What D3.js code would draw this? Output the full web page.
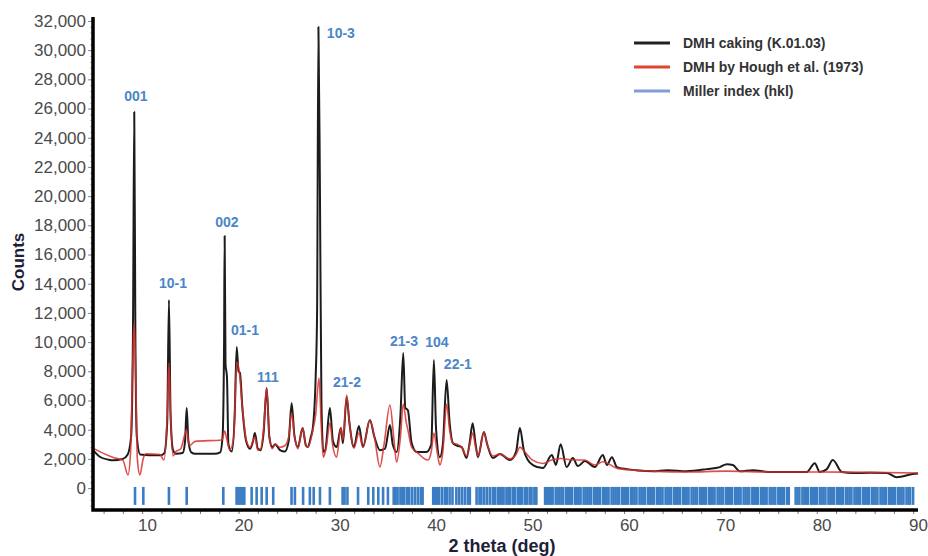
<!DOCTYPE html>
<html>
<head>
<meta charset="utf-8">
<script src="https://cdn.jsdelivr.net/npm/d3@7"></script>
<style>
  body { margin: 0; background: #fff; }
  svg { display: block; font-family: Arial, "Liberation Sans", sans-serif; }
</style>
</head>
<body>
<div id="chart"></div>
<script>
// XRD pattern: observed DMH caking vs calculated (Hough et al. 1973)

// observed pattern, [2 theta, counts]
const observed = [
  [4.4, 2600], [5.1, 2150], [6.0, 1950], [6.5, 1900], [7.5, 2000], [8.0, 2300], [8.35, 3500],
  [8.55, 11000], [8.68, 25760], [8.8, 10000], [8.95, 3500], [9.3, 2300], [10.3, 2250],
  [11.4, 2250], [11.8, 2400], [12.1, 4500], [12.28, 12880], [12.45, 5000], [12.7, 2600],
  [13.0, 2350], [13.7, 2400], [13.95, 3200], [14.12, 5480], [14.3, 3200], [14.6, 2450],
  [15.0, 2350], [17.0, 2350], [17.6, 2450], [17.85, 3600], [18.0, 10000], [18.06, 17270],
  [18.15, 8500], [18.3, 7600], [18.45, 3000], [18.8, 2500], [19.1, 5000], [19.31, 9660],
  [19.5, 8000], [19.65, 7880], [19.9, 5500], [20.3, 3200], [20.7, 2700], [21.0, 3200],
  [21.2, 3770], [21.5, 2700], [21.8, 2600], [22.1, 3800], [22.42, 6850], [22.7, 3500],
  [23.0, 2800], [23.3, 3000], [23.8, 2600], [24.3, 2500], [24.7, 3200], [25.01, 5820],
  [25.3, 3600], [25.66, 2810], [26.15, 4110], [26.5, 2900], [26.7, 2810], [27.0, 3500],
  [27.22, 4180], [27.5, 7540], [27.65, 12000], [27.79, 31590], [27.95, 20000], [28.1, 6000],
  [28.3, 2470], [28.5, 2600], [28.98, 5480], [29.3, 3200], [29.68, 2810], [30.12, 4110],
  [30.33, 3080], [30.72, 6240], [31.0, 4500], [31.47, 2810], [31.99, 4250], [32.41, 2810],
  [33.13, 4660], [33.6, 3500], [34.17, 2600], [34.7, 2700], [35.21, 4320], [35.5, 3000],
  [35.9, 2470], [36.3, 5000], [36.59, 9250], [36.8, 5500], [37.07, 5340], [37.46, 3080],
  [38.0, 2470], [39.0, 2470], [39.5, 3000], [39.77, 8770], [40.0, 4000], [40.39, 2120],
  [40.7, 3000], [41.09, 7400], [41.4, 4500], [41.74, 3080], [42.2, 2900], [42.65, 2810],
  [43.16, 2060], [43.5, 3200], [43.79, 4450], [44.1, 3000], [44.34, 2120], [44.96, 3840],
  [45.3, 3000], [45.89, 2060], [46.62, 2330], [47.66, 1920], [48.3, 2500], [48.69, 4110],
  [49.1, 2600], [49.52, 1920], [50.04, 1580], [51.08, 1370], [52.01, 2260], [52.43, 1580],
  [52.92, 3010], [53.54, 1440], [54.19, 2060], [54.71, 1510], [55.44, 1850], [56.47, 1440],
  [57.3, 2260], [57.72, 1580], [58.24, 2120], [58.76, 1440], [59.79, 1300], [61.0, 1200],
  [62.49, 1160], [64.0, 1230], [66.02, 1160], [68.09, 1300], [69.44, 1440], [70.17, 1640],
  [70.79, 1580], [71.52, 1160], [72.86, 1230], [74.5, 1100], [76.39, 1100], [78.46, 1100],
  [79.29, 1710], [79.81, 1100], [80.54, 1300], [81.16, 1920], [82.1, 1100], [83.24, 1030],
  [85.0, 1050], [86.76, 1030], [87.8, 750], [89.46, 960], [90.0, 1000]
];

// calculated pattern, [2 theta, counts]
const calculated = [
  [4.4, 2740], [5.1, 2500], [6.5, 2100], [7.5, 1900], [8.03, 900], [8.3, 2500], [8.5, 8000],
  [8.68, 11370], [8.85, 7000], [9.0, 2000], [9.27, 900], [9.6, 2000], [9.9, 2350],
  [11.35, 2300], [11.76, 1920], [12.1, 5000], [12.28, 8560], [12.45, 5000], [12.7, 2200],
  [13.0, 2500], [13.5, 2700], [14.12, 3970], [14.4, 2900], [15.0, 3200], [17.78, 3300],
  [18.06, 3900], [18.3, 3300], [18.6, 2600], [19.0, 3500], [19.31, 8630], [19.6, 7880],
  [19.9, 5500], [20.3, 3300], [20.7, 2800], [21.2, 3500], [21.5, 2600], [21.8, 2700],
  [22.1, 4000], [22.42, 6850], [22.7, 3500], [23.0, 2700], [23.3, 3000], [23.8, 2800],
  [24.3, 2900], [24.7, 3500], [25.01, 5140], [25.3, 3600], [25.66, 2700], [26.15, 4110],
  [26.5, 2900], [26.7, 2810], [27.22, 4000], [27.5, 5000], [27.85, 7540], [28.1, 4000],
  [28.3, 2120], [28.6, 2800], [28.98, 4450], [29.3, 2800], [29.68, 2120], [30.12, 4110],
  [30.33, 3300], [30.72, 6370], [31.0, 4500], [31.47, 2740], [31.99, 3770], [32.41, 2810],
  [33.13, 4660], [33.6, 3500], [34.17, 1440], [34.6, 3000], [35.21, 5690], [35.6, 3500],
  [35.9, 1780], [36.3, 3500], [36.59, 5760], [36.9, 4500], [37.07, 4000], [37.46, 2800],
  [38.0, 2470], [39.15, 1920], [39.5, 2500], [39.77, 3770], [40.1, 2500], [40.39, 1580],
  [40.7, 2500], [41.09, 5760], [41.4, 4000], [41.74, 3080], [42.2, 3000], [42.65, 2810],
  [43.16, 2200], [43.5, 3000], [43.79, 3770], [44.1, 2800], [44.34, 2200], [44.96, 3800],
  [45.3, 3000], [45.89, 2200], [46.62, 2330], [47.66, 2000], [48.3, 2300], [48.69, 2810],
  [49.2, 2490], [50.0, 1920], [51.08, 1690], [52.0, 1920], [52.9, 2030], [54.2, 1920],
  [55.4, 1920], [56.5, 1580], [57.3, 1800], [58.8, 1350], [60.5, 1230], [62.5, 1160],
  [66.0, 1100], [70.0, 1160], [75.0, 1100], [80.0, 1100], [85.0, 1080], [90.0, 1030]
];

// reflection positions (2 theta) for the Miller index ticks
const reflections = [
  8.76, 9.62, 12.28, 14.12, 17.92, 19.3, 19.5, 19.7, 19.9, 20.1, 20.86, 21.38, 21.9, 22.42,
  23.1, 25.0, 25.35, 26.2, 26.9, 27.3, 27.95, 28.98, 30.3, 30.5, 30.8, 31.9, 32.96, 33.48,
  34.0, 34.5, 35.0, 35.6, 35.8, 36.0, 36.3, 36.5, 36.7, 37.0, 37.2, 37.5, 37.8, 38.1, 38.4,
  38.6, 39.7, 39.9, 40.1, 40.3, 40.6, 40.9, 41.1, 41.4, 41.7, 42.1, 42.4, 42.7, 43.0, 43.3,
  43.5, 44.2, 44.5, 44.7, 45.0, 45.3, 45.6, 45.9, 46.1, 46.4, 46.6, 46.8, 47.0, 47.3, 47.5,
  47.7, 48.0, 48.2, 48.5, 48.7, 48.9, 49.2, 49.4, 49.7, 49.9, 50.2, 50.4,
  51.3, 51.5, 51.7, 51.9, 52.1, 52.4, 52.6, 52.8, 53.0, 53.2, 53.5, 53.7, 53.9, 54.1, 54.4,
  54.6, 54.8, 55.0, 55.3, 55.5, 55.7, 55.9, 56.1, 56.4, 56.6, 56.8, 57.0, 57.3, 57.5, 57.7,
  57.9, 58.2, 58.4, 58.6, 58.8, 59.0, 59.3, 59.5, 59.7, 59.9, 60.2, 60.4, 60.6, 60.8, 61.1,
  61.3, 61.5, 61.7, 62.0, 62.2, 62.4, 62.6, 62.9, 63.1, 63.3, 63.5, 63.8, 64.0, 64.2, 64.4,
  64.7, 64.9, 65.1, 65.3, 65.6, 65.8, 66.0, 66.2, 66.5, 66.7, 66.9, 67.1, 67.4, 67.6, 67.8,
  68.0, 68.3, 68.5, 68.7, 68.9, 69.2, 69.4, 69.6, 69.8, 70.1, 70.3, 70.5, 70.7, 71.0, 71.2,
  71.4, 71.6, 71.9, 72.1, 72.3, 72.5, 72.8, 73.0, 73.2, 73.4, 73.7, 73.9, 74.1, 74.3, 74.6,
  74.8, 75.0, 75.2, 75.5, 75.7, 75.9, 76.1, 76.4, 76.6,
  77.3, 77.5, 77.7, 78.0, 78.2, 78.4, 78.6, 78.9, 79.1, 79.3, 79.5, 79.8, 80.0, 80.2, 80.4,
  80.7, 80.9, 81.1, 81.3, 81.6, 81.8, 82.0, 82.2, 82.5, 82.7, 82.9, 83.1, 83.4, 83.6, 83.8,
  84.0, 84.3, 84.5, 84.7, 84.9, 85.2, 85.4, 85.6, 85.8, 86.1, 86.3, 86.5, 86.7, 87.0, 87.2,
  87.4, 87.6, 87.9, 88.1, 88.3, 88.5, 88.8, 89.0, 89.2, 89.5
];

// peak annotations: hkl label, 2 theta, counts where the label sits
const peakLabels = [
  ['001', 8.86, 26520], ['10-1', 12.7, 13700], ['002', 18.3, 17880], ['01-1', 20.17, 10480],
  ['111', 22.55, 7260], ['10-3', 30.12, 30830], ['21-2', 30.75, 6920], ['21-3', 36.66, 9730],
  ['104', 40.08, 9660], ['22-1', 42.26, 8150]
];

const yTicks = [0, 2000, 4000, 6000, 8000, 10000, 12000, 14000, 16000, 18000, 20000,
  22000, 24000, 26000, 28000, 30000, 32000];
const xTicks = [10, 20, 30, 40, 50, 60, 70, 80, 90];

const legendItems = [
  { label: 'DMH caking (K.01.03)', color: '#222' },
  { label: 'DMH by Hough et al. (1973)', color: '#e0452f' },
  { label: 'Miller index (hkl)', color: '#7f9fd4' }
];

const width = 928, height = 556;
const svg = d3.select('#chart').append('svg')
  .attr('width', width)
  .attr('height', height);

const x = d3.scaleLinear().domain([4.4, 90]).range([93, 918]);
const y = d3.scaleLinear().domain([-1500, 32270]).range([510, 17]);

// y minor ticks
svg.append('g')
  .attr('transform', 'translate(93,0)')
  .call(d3.axisLeft(y).tickValues(d3.range(-1200, 32200, 400)).tickSize(3).tickFormat(''))
  .call(g => g.select('.domain').remove())
  .call(g => g.selectAll('line').attr('stroke', '#bbb'));

// y major ticks + labels
svg.append('g')
  .attr('transform', 'translate(93,0)')
  .call(d3.axisLeft(y).tickValues(yTicks).tickSize(5).tickPadding(2).tickFormat(d3.format(',')))
  .call(g => g.select('.domain').remove())
  .call(g => g.selectAll('line').attr('stroke', '#888'))
  .call(g => g.selectAll('text')
    .attr('font-size', 17)
    .attr('font-family', 'Arial, "Liberation Sans", sans-serif')
    .attr('fill', '#4a4a4a'));

// x minor ticks
svg.append('g')
  .attr('transform', 'translate(0,510)')
  .call(d3.axisBottom(x).tickValues(d3.range(5.5, 90, 2)).tickSize(4).tickFormat(''))
  .call(g => g.select('.domain').remove())
  .call(g => g.selectAll('line').attr('stroke', '#777'));

// x labels
svg.append('g')
  .attr('transform', 'translate(0,510)')
  .call(d3.axisBottom(x).tickValues(xTicks).tickSize(0).tickPadding(9))
  .call(g => g.select('.domain').remove())
  .call(g => g.selectAll('text')
    .attr('font-size', 17)
    .attr('font-family', 'Arial, "Liberation Sans", sans-serif')
    .attr('fill', '#4a4a4a'));

// Miller index ticks
svg.append('g')
  .selectAll('line')
  .data(reflections)
  .enter()
  .append('line')
  .attr('x1', d => x(d))
  .attr('x2', d => x(d))
  .attr('y1', y(80))
  .attr('y2', y(-1150))
  .attr('stroke', '#3b7dc4')
  .attr('stroke-width', d => d > 51 ? 2.4 : 2.6);

const line = d3.line()
  .x(d => x(d[0]))
  .y(d => y(d[1]))
  .curve(d3.curveMonotoneX);

svg.append('path')
  .datum(observed)
  .attr('d', line)
  .attr('fill', 'none')
  .attr('stroke', '#1c1c1c')
  .attr('stroke-width', 2)
  .attr('stroke-linejoin', 'round');

svg.append('path')
  .datum(calculated)
  .attr('d', line)
  .attr('fill', 'none')
  .attr('stroke', '#d9302c')
  .attr('stroke-opacity', 0.85)
  .attr('stroke-width', 1.6)
  .attr('stroke-linejoin', 'round');

// axis frame
svg.append('path')
  .attr('d', `M${x(4.4)},${y(32270)}V${y(-1500)}H${x(90)}`)
  .attr('fill', 'none')
  .attr('stroke', '#000')
  .attr('stroke-width', 3.5);

// peak labels
svg.append('g')
  .selectAll('text')
  .data(peakLabels)
  .enter()
  .append('text')
  .attr('x', d => x(d[1]))
  .attr('y', d => y(d[2]))
  .attr('text-anchor', 'middle')
  .attr('font-size', 14)
  .attr('font-weight', 'bold')
  .attr('fill', '#4a86c8')
  .text(d => d[0]);

// axis titles
svg.append('text')
  .attr('x', 502)
  .attr('y', 552)
  .attr('text-anchor', 'middle')
  .attr('font-size', 18)
  .attr('font-weight', 'bold')
  .attr('fill', '#1e1e3a')
  .text('2 theta (deg)');

svg.append('text')
  .attr('transform', 'translate(24,262) rotate(-90)')
  .attr('text-anchor', 'middle')
  .attr('font-size', 17)
  .attr('font-weight', 'bold')
  .attr('fill', '#1e1e3a')
  .text('Counts');

// legend
const legend = svg.append('g')
  .attr('transform', 'translate(634,43)');

const rows = legend.selectAll('g')
  .data(legendItems)
  .enter()
  .append('g')
  .attr('transform', (d, i) => `translate(0,${i * 24})`);

rows.append('line')
  .attr('x1', 0)
  .attr('x2', 36)
  .attr('stroke', d => d.color)
  .attr('stroke-width', 3);

rows.append('text')
  .attr('x', 49)
  .attr('dy', '0.35em')
  .attr('font-size', 14)
  .attr('font-weight', 'bold')
  .attr('fill', '#333')
  .text(d => d.label);
</script>
</body>
</html>
